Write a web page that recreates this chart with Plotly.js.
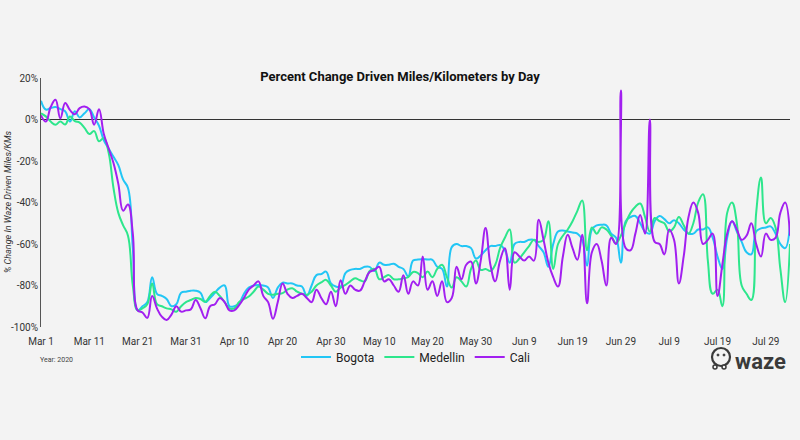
<!DOCTYPE html>
<html>
<head>
<meta charset="utf-8">
<script src="https://cdn.plot.ly/plotly-3.0.1.min.js"></script>
<style>html,body{margin:0;padding:0;background:#f3f3f3;}#chart{width:800px;height:440px;}</style>
</head>
<body>
<div id="chart"></div>
<script>
// Daily values, starting 2020-03-01, one value per day (percent change)
const startDate = '2020-03-01';
const seriesNames = ['Bogota', 'Medellin', 'Cali'];
const seriesColors = ['#22c6f5', '#2de68c', '#a21ff0'];

const bogota = [
  9, 4.8, 5.5, 6, 5, 4, -1, 4, 1, 3,
  5, 1, -3, -10, -14, -18, -22, -29, -33, -62,
  -92, -90, -88, -76, -84, -85, -86.5, -90, -89, -83.5,
  -83, -82.5, -82.5, -83.5, -88, -86, -83.5, -81, -80, -90,
  -90, -88.6, -84, -81, -80, -79.7, -80, -81, -86, -81,
  -78.6, -79, -79, -80, -80.5, -85, -80, -75, -74.5, -73.3,
  -79, -80.5, -80.5, -74, -72.5, -72, -72, -71, -71, -73,
  -69, -70, -70, -69.5, -71, -72, -75.5, -68, -67.5, -67.3,
  -67.5, -67.6, -71, -72, -80.5, -61.5, -60, -61, -61, -62,
  -67, -65.5, -63, -61, -61, -60.5, -63, -69, -60, -59,
  -59, -58, -58, -61, -64, -71, -60, -54, -53.5, -54,
  -54.5, -55, -58, -70.5, -53, -51, -50.7, -51, -55, -57,
  -69, -49, -47, -46.5, -50, -54, -55, -49, -46.5, -48,
  -50, -48.5, -50, -53, -55, -55, -53, -53, -52, -57,
  -66, -72, -57, -49, -54, -59, -64, -65, -54, -52.5,
  -52, -51.5, -55, -60, -62, -50
];

const medellin = [
  3, 1.5, -1, -2.5, -1, -2.4, 1.5, -0.8, -1.5, -4,
  -7, -5.6, -10.5, -9, -16, -33, -45, -51, -56, -80,
  -92, -91, -89, -79, -89, -90, -91, -91.5, -92.6, -90,
  -88, -87, -86, -86.5, -87.8, -85, -83, -85, -88, -91,
  -91, -88, -86.5, -85.3, -83, -80.5, -82, -84, -84.5, -84,
  -83.7, -82, -81.3, -83, -84, -84.5, -83, -80, -78.5, -77.3,
  -80, -83, -81, -79.7, -78, -76.5, -77.5, -78, -73, -72,
  -77, -76, -75, -77, -77, -76.5, -76, -73.5, -74, -76,
  -73.3, -76, -72, -70, -76, -81, -76, -78, -80.5, -72,
  -68, -72.5, -72, -73, -70, -62, -57, -53, -69, -67,
  -64, -61, -58, -59, -58, -49, -72, -60, -56, -53,
  -49, -44, -39, -63, -52, -55, -52, -53, -56, -59.6,
  -56, -50, -45, -42, -40.5, -47, -54, -47.5, -49, -50,
  -54, -52, -47, -51, -55, -50, -40, -36, -68, -84,
  -82, -90, -45, -40, -50, -80, -84, -87, -45, -28,
  -50, -47.5, -52, -72, -88, -60
];

const cali = [
  2, -1, 6, 9.5, 0.5, 8, 4.5, 2.5, 5.5, 6.3,
  5, -2.5, 5, -7, -14, -21, -31, -44, -41, -55,
  -92, -93, -95.6, -85, -91, -95, -96.6, -94, -90, -92.6,
  -92, -91.5, -87, -91, -95.8, -90, -89, -86, -88, -92,
  -92, -89.5, -86, -82, -80, -78, -85, -88, -96, -88,
  -79, -84, -86, -85, -84, -86, -88, -82, -86, -89,
  -83, -90, -77.5, -84, -80, -82, -82.5, -78, -73.5, -72.5,
  -71, -78, -77, -80, -83, -75, -84, -78, -80, -66,
  -82, -78, -85, -78, -88, -86, -71, -77, -70, -68.5,
  -79, -68, -52.3, -70, -78, -68, -62, -82, -64, -66,
  -68, -66, -68, -48.3, -58, -69, -76, -80.5, -66, -55.6,
  -62, -67.6, -55.6, -88.6, -64, -60, -68, -80, -57, -60,
  14, -62, -63, -55, -46, -55, 0, -59, -60, -65,
  -53, -58, -79, -66, -47, -40, -45, -60, -58, -55,
  -85, -70, -55, -49, -53, -58, -56, -50, -60, -66,
  -55, -58, -57, -45, -40, -56
];

const yTickVals = [-100, -80, -60, -40, -20, 0, 20];
const yTickText = ['-100%', '-80%', '-60%', '-40%', '-20%', '0%', '20%'];

function dayList(start, n) {
  const out = [];
  const t0 = Date.parse(start + 'T00:00:00Z');
  for (let i = 0; i < n; i++) {
    out.push(new Date(t0 + i * 86400000).toISOString().slice(0, 10));
  }
  return out;
}
const dates = dayList(startDate, bogota.length);

const allSeries = [bogota, medellin, cali];
const traces = allSeries.map((vals, i) => ({
  type: 'scatter',
  mode: 'lines',
  name: seriesNames[i],
  x: dates,
  y: vals,
  line: {color: seriesColors[i], width: 2, shape: 'spline', smoothing: 1.2},
  hoverinfo: 'skip'
}));

// pixel helpers for paper coordinates (plot area 41..790 x, 78..327 y)
const L = 41, R = 790, T = 78, B = 327;
const px = v => (v - L) / (R - L);
const py = v => (B - v) / (B - T);

const layout = {
  width: 800, height: 440,
  margin: {l: L, r: 800 - R, t: T, b: 440 - B},
  paper_bgcolor: '#f3f3f3',
  plot_bgcolor: '#f3f3f3',
  font: {family: 'Roboto, sans-serif', color: '#333', size: 10},
  showlegend: true,
  title: {
    text: '<b>Percent Change Driven Miles/Kilometers by Day</b>',
    font: {family: 'Roboto, sans-serif', size: 13, color: '#111'},
    x: 0.5, xref: 'container', xanchor: 'center',
    y: 1 - 76 / 440, yref: 'container', yanchor: 'middle'
  },
  xaxis: {
    type: 'date',
    range: [startDate, dates[dates.length - 1]],
    tick0: startDate,
    dtick: 10 * 86400000,
    tickformat: '%b %-d',
    showgrid: false, zeroline: false, showline: false,
    ticks: 'outside', ticklen: 5, tickcolor: 'rgba(0,0,0,0)',
    tickfont: {size: 10, color: '#333'}
  },
  yaxis: {
    range: [-100, 20],
    tickvals: yTickVals, ticktext: yTickText,
    showgrid: false,
    zeroline: true, zerolinecolor: '#333', zerolinewidth: 1,
    showline: true, linecolor: '#555', linewidth: 1,
    ticks: '', tickfont: {size: 10, color: '#333'}
  },
  legend: {
    orientation: 'h',
    x: 0.5, xanchor: 'center',
    y: py(357), yanchor: 'middle',
    font: {size: 12, color: '#222'},
    bgcolor: 'rgba(0,0,0,0)',
    itemwidth: 30
  },
  annotations: [
    {text: '<i>% Change In Waze Driven Miles/KMs</i>', textangle: -90,
     xref: 'paper', yref: 'paper', x: px(8), y: py(202),
     xanchor: 'center', yanchor: 'middle', showarrow: false,
     font: {size: 9, color: '#333'}},
    {text: 'Year: 2020', xref: 'paper', yref: 'paper', x: px(38), y: py(360),
     xanchor: 'left', yanchor: 'middle', showarrow: false,
     font: {size: 7, color: '#444'}},
    {text: '<b>waze</b>', xref: 'paper', yref: 'paper', x: px(788), y: py(361),
     xanchor: 'right', yanchor: 'middle', showarrow: false,
     font: {size: 22, color: '#3a3a3a', family: 'Roboto, sans-serif'}}
  ],
  shapes: [
    {type: 'circle', xref: 'paper', yref: 'paper',
     x0: px(712), x1: px(730), y0: py(366), y1: py(348),
     line: {color: '#3a3a3a', width: 2.2}, fillcolor: 'rgba(0,0,0,0)'},
    {type: 'circle', xref: 'paper', yref: 'paper',
     x0: px(717), x1: px(719), y0: py(356), y1: py(354),
     line: {color: '#3a3a3a', width: 1}, fillcolor: '#3a3a3a'},
    {type: 'circle', xref: 'paper', yref: 'paper',
     x0: px(723), x1: px(725), y0: py(356), y1: py(354),
     line: {color: '#3a3a3a', width: 1}, fillcolor: '#3a3a3a'},
    {type: 'circle', xref: 'paper', yref: 'paper',
     x0: px(713), x1: px(717), y0: py(369), y1: py(365),
     line: {color: '#3a3a3a', width: 1.5}, fillcolor: '#f3f3f3'},
    {type: 'circle', xref: 'paper', yref: 'paper',
     x0: px(722), x1: px(726), y0: py(369), y1: py(365),
     line: {color: '#3a3a3a', width: 1.5}, fillcolor: '#f3f3f3'}
  ]
};

Plotly.newPlot('chart', traces, layout, {displayModeBar: false, staticPlot: true});
</script>
</body>
</html>
